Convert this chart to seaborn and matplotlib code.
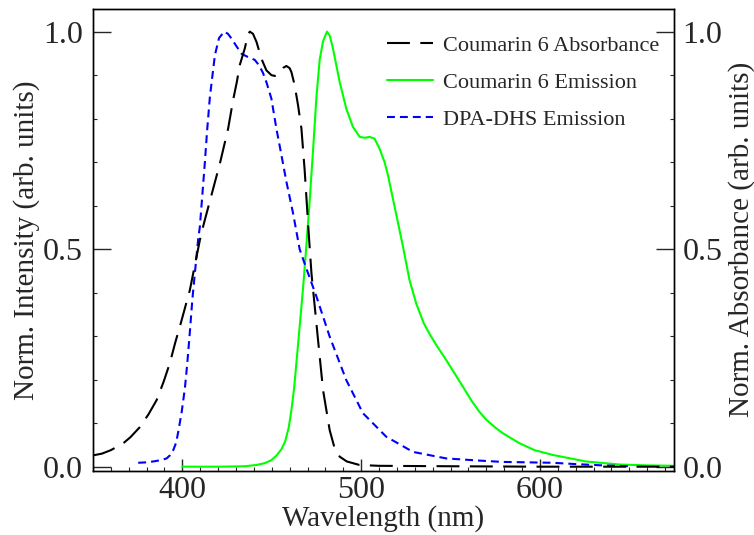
import numpy as np
import pandas as pd
import matplotlib
matplotlib.use("Agg")
import matplotlib.pyplot as plt
import seaborn as sns
from matplotlib.ticker import MultipleLocator
from matplotlib.lines import Line2D

# ---- data ----
abs_wl = [350, 355, 360, 367, 371, 376, 381, 385.6, 389.5, 393, 396, 398.6, 404.2, 409.8,
          411.6, 416, 421, 425.6, 428.4, 430.5, 432.1, 434.9, 436.5, 437.7, 439.5, 441.5,
          444.2, 447, 449.8, 451.7, 454.5, 456.5, 458.2, 460, 461, 462.8, 464.7, 466.6,
          468.4, 470.8, 472.2, 475.9, 478.7, 482.4, 485, 488, 492, 499, 510, 550, 600, 675]
abs_val = [0.026, 0.030, 0.038, 0.054, 0.068, 0.090, 0.120, 0.153, 0.195, 0.238, 0.285, 0.322,
           0.406, 0.521, 0.552, 0.620, 0.697, 0.777, 0.843, 0.885, 0.923, 0.961, 0.990, 1.000,
           0.995, 0.976, 0.938, 0.911, 0.900, 0.898, 0.907, 0.917, 0.921, 0.916, 0.907, 0.877,
           0.831, 0.777, 0.682, 0.529, 0.445, 0.291, 0.176, 0.084, 0.045, 0.023, 0.012, 0.004,
           0.002, 0.001, 0.0, 0.0]

c6_wl = [400, 420, 435, 441.5, 446, 449.8, 452.5, 455.4, 457.5, 459.5, 461, 462.5, 464.7, 467.5,
         469.4, 471.2, 473.3, 475, 476.8, 478.7, 480.9, 482.5, 484.2, 486, 488, 491.7, 495.4,
         499.2, 502, 504.7, 507.5, 510.3, 513.1, 515, 518.7, 523.4, 527, 530.8, 535, 538.3,
         542, 547.6, 556.9, 562, 566.2, 570, 575, 579.2, 588.5, 597, 607.2, 625.8, 644.4, 660, 675]
c6_val = [0.0, 0.0, 0.001, 0.004, 0.008, 0.015, 0.025, 0.040, 0.058, 0.090, 0.130, 0.180, 0.280,
          0.410, 0.510, 0.610, 0.740, 0.850, 0.935, 0.978, 1.000, 0.990, 0.962, 0.925, 0.884,
          0.823, 0.781, 0.758, 0.756, 0.758, 0.754, 0.731, 0.700, 0.670, 0.598, 0.506, 0.430,
          0.375, 0.330, 0.305, 0.280, 0.245, 0.184, 0.150, 0.126, 0.108, 0.090, 0.077, 0.054,
          0.038, 0.027, 0.012, 0.005, 0.003, 0.002]

dpa_wl = [375.3, 380, 383.7, 388, 391.2, 393, 394.9, 396.5, 397.7, 399.6, 401.4, 402.7, 404.2,
          405.6, 407, 408.8, 409.8, 412.6, 413.8, 415.4, 418.2, 420.5, 423.4, 425.5, 427.5, 430,
          433.1, 436.5, 440.5, 443, 445.1, 447, 449.8, 452.6, 454.5, 458.2, 461.9, 465.6, 469.4,
          475, 482.4, 491.7, 501, 514, 529, 547.6, 566.2, 579, 607, 620, 635, 650]
dpa_val = [0.009, 0.010, 0.012, 0.015, 0.019, 0.026, 0.038, 0.055, 0.080, 0.125, 0.180, 0.235,
           0.310, 0.385, 0.445, 0.521, 0.552, 0.700, 0.770, 0.850, 0.946, 0.985, 1.000, 0.995,
           0.984, 0.968, 0.949, 0.942, 0.935, 0.922, 0.905, 0.884, 0.846, 0.777, 0.736, 0.655,
           0.583, 0.500, 0.455, 0.391, 0.299, 0.199, 0.123, 0.069, 0.034, 0.019, 0.014, 0.011,
           0.009, 0.006, 0.003, 0.001]

labels = ["Coumarin 6 Absorbance", "Coumarin 6 Emission", "DPA-DHS Emission"]
colors = ["black", "#00ff00", "#0000ff"]

# ---- style ----
sns.set_style("ticks")
plt.rcParams["font.family"] = ["Liberation Serif", "DejaVu Serif"]

fig = plt.figure(figsize=(7.54, 5.35), dpi=100)
ax = fig.add_axes([0.1233, 0.1202, 0.7706, 0.8630])
ax2 = ax.twinx()

lw = 1.5
abs_dash = (0, (11, 5))
dpa_dash = (0, (3.8, 2.4))
df_abs = pd.DataFrame({"wl": abs_wl, "v": abs_val})
df_c6 = pd.DataFrame({"wl": c6_wl, "v": c6_val})
df_dpa = pd.DataFrame({"wl": dpa_wl, "v": dpa_val})

sns.lineplot(data=df_c6, x="wl", y="v", ax=ax, color=colors[1], linewidth=lw,
             linestyle="-", estimator=None, sort=False)
sns.lineplot(data=df_dpa, x="wl", y="v", ax=ax, color=colors[2], linewidth=lw,
             linestyle=dpa_dash, estimator=None, sort=False)
sns.lineplot(data=df_abs, x="wl", y="v", ax=ax2, color=colors[0], linewidth=lw,
             linestyle=abs_dash, estimator=None, sort=False)

xmin, xmax = 350, 675
ymin, ymax = -0.0092, 1.052
for a in (ax, ax2):
    a.set_xlim(xmin, xmax)
    a.set_ylim(ymin, ymax)
    a.yaxis.set_major_locator(MultipleLocator(0.5))
    a.yaxis.set_minor_locator(MultipleLocator(0.1))
    a.yaxis.set_major_formatter(matplotlib.ticker.FormatStrFormatter("%.1f"))
    for s in a.spines.values():
        s.set_linewidth(1.0)
        s.set_color("black")

ax.xaxis.set_major_locator(MultipleLocator(100))
ax.xaxis.set_minor_locator(MultipleLocator(10))

ax.tick_params(axis="x", which="major", direction="in", length=9, width=1.0,
               labelsize=23, pad=4, top=False, bottom=True)
ax.tick_params(axis="x", which="minor", direction="in", length=3, width=0.8,
               top=False, bottom=True)
ax.tick_params(axis="y", which="major", direction="in", length=13, width=1.0,
               labelsize=23, pad=7, left=True, right=False)
ax.tick_params(axis="y", which="minor", direction="in", length=3, width=0.8,
               left=True, right=False)
ax2.tick_params(axis="y", which="major", direction="in", length=13, width=1.0,
                labelsize=23, pad=6, right=True, left=False)
ax2.tick_params(axis="y", which="minor", direction="in", length=3, width=0.8,
                right=True, left=False)

ax.set_xlabel("Wavelength (nm)", fontsize=21, labelpad=0)
ax.set_ylabel("Norm. Intensity (arb. units)", fontsize=21, labelpad=2)
ax2.set_ylabel("Norm. Absorbance (arb. units)", fontsize=21, labelpad=4)

handles = [
    Line2D([], [], color=colors[0], linewidth=lw, linestyle=abs_dash),
    Line2D([], [], color=colors[1], linewidth=lw, linestyle="-"),
    Line2D([], [], color=colors[2], linewidth=lw, linestyle=dpa_dash),
]
leg = ax2.legend(handles, labels, loc="upper left", bbox_to_anchor=(0.49, 0.963),
                 frameon=False, fontsize=16, handlelength=2.1, handletextpad=0.45,
                 labelspacing=0.75, borderaxespad=0)

fig.savefig("out.png", dpi=100)
